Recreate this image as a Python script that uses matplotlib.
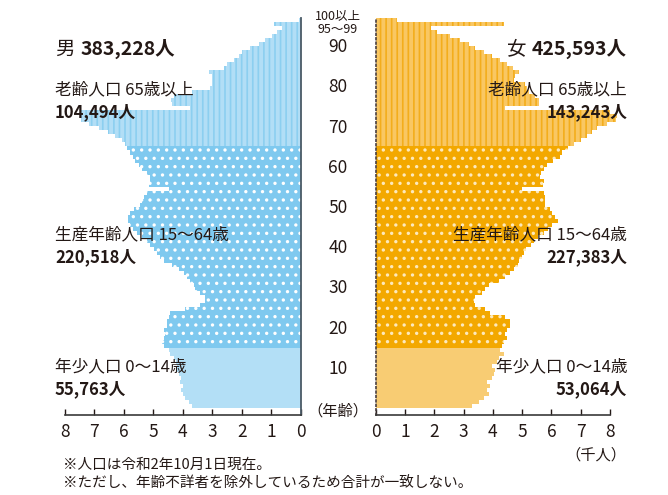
import matplotlib
matplotlib.use("Agg")
import matplotlib.pyplot as plt
import matplotlib.transforms as mtransforms
import numpy as np

plt.rcParams['font.family'] = ['Noto Sans CJK JP', 'DejaVu Sans']
plt.rcParams['hatch.linewidth'] = 1.2

# population in thousands, single ages 0..94, then 95-99 and 100+
male_child = [3.70, 3.78, 3.92, 3.98, 4.05, 4.00, 4.10, 4.05, 4.12, 4.20,
              4.18, 4.22, 4.30, 4.42, 4.48]
male_work = [4.65, 4.70, 4.65, 4.59, 4.65, 4.54, 4.54, 4.48, 4.42, 3.91,
             3.40, 3.23, 3.23, 3.40, 3.57, 3.63, 3.74, 3.85, 3.97, 4.14,
             4.36, 4.65, 4.76, 4.88, 4.99, 5.10, 5.22, 5.39, 5.56, 5.70,
             5.80, 5.85, 5.85, 5.78, 5.65, 5.44, 5.39, 5.33, 5.22, 4.48,
             5.16, 5.10, 5.10, 5.22, 5.39, 5.50, 5.62, 5.70, 5.78, 5.90]
male_old = [5.97, 6.05, 6.30, 6.55, 6.85, 7.20, 7.45, 7.50, 7.45, 3.75,
            4.37, 4.40, 4.30, 3.70, 3.06, 3.00, 3.00, 3.00, 3.12, 2.61,
            2.49, 2.27, 2.10, 1.98, 1.70, 1.42, 1.19, 0.96, 0.79, 0.62,
            0.91, 0.06]

female_child = [3.29, 3.52, 3.69, 3.86, 3.80, 3.91, 3.80, 3.97, 4.03, 4.08,
                3.97, 4.14, 4.20, 4.37, 4.25]
female_work = [4.31, 4.37, 4.48, 4.43, 4.48, 4.60, 4.60, 4.43, 3.91, 3.74,
               3.40, 3.34, 3.40, 3.63, 3.74, 3.86, 4.20, 4.43, 4.60, 4.71,
               4.85, 4.90, 5.00, 5.05, 5.12, 5.30, 5.40, 5.55, 5.75, 5.90,
               6.02, 6.22, 6.13, 6.02, 5.96, 5.79, 5.77, 5.77, 5.75, 4.99,
               5.70, 5.73, 5.60, 5.65, 5.75, 5.85, 6.07, 6.30, 6.36, 6.55]
female_old = [6.78, 7.00, 7.20, 7.40, 7.55, 7.90, 8.22, 8.24, 8.00, 4.43,
              5.56, 5.56, 5.45, 5.22, 5.16, 5.11, 4.71, 4.77, 4.88, 4.70,
              4.48, 4.25, 3.97, 3.69, 3.40, 3.17, 2.89, 2.55, 2.09, 1.88,
              4.37, 0.73]

age_ticks = [10, 20, 30, 40, 50, 60, 70, 80, 90]
x_ticks = [0, 1, 2, 3, 4, 5, 6, 7, 8]

male = male_child + male_work + male_old
female = female_child + female_work + female_old
rows = np.arange(len(male))

ink = '#231815'
# (face colour, hatch colour, hatch) for child / working / elderly
groups = [
    (slice(0, 15), dict(m=('#b3dff6', None, None), f=('#f8cc73', None, None))),
    (slice(15, 65), dict(m=('#7fc9ef', 'white', '..'), f=('#f3a800', '#fde9bd', '..'))),
    (slice(65, len(male)), dict(m=('#b2def6', '#8ccff0', '|||'), f=('#f9c763', '#f3ad1c', '|||'))),
]

fig = plt.figure(figsize=(6.68, 4.95), dpi=100)
ax_l = fig.add_axes([65 / 668, 80 / 495, 235.5 / 668, 397.3 / 495])
ax_r = fig.add_axes([375.7 / 668, 80 / 495, 234.3 / 668, 397.3 / 495])

for sl, st in groups:
    for ax, vals, key in [(ax_l, male, 'm'), (ax_r, female, 'f')]:
        face, hcol, hatch = st[key]
        kw = dict(height=1.0, color=face, linewidth=0, clip_on=False)
        if hatch:
            kw.update(edgecolor=hcol, hatch=hatch)
        ax.barh(rows[sl], vals[sl], **kw)

for ax in (ax_l, ax_r):
    ax.set_ylim(-2.24, 96.5)
    ax.set_yticks([])
    ax.set_xticks(x_ticks)
    ax.tick_params(axis='x', direction='in', length=4, width=1,
                   colors=ink, labelsize=12.5, pad=6)
    ax.spines['top'].set_visible(False)
    ax.spines['bottom'].set_color('#3a3a3a')
    ax.spines['bottom'].set_linewidth(1.2)
ax_l.set_xlim(8, 0)
ax_r.set_xlim(0, 8)
ax_l.spines['left'].set_visible(False)
ax_l.spines['right'].set_color('#4a5a66')
ax_l.spines['right'].set_linewidth(1.3)
ax_r.spines['right'].set_visible(False)
ax_r.spines['left'].set_color('#4a4040')
ax_r.spines['left'].set_linestyle(':')
ax_r.spines['left'].set_linewidth(1.2)

# age labels between the two panels
mid = mtransforms.blended_transform_factory(fig.transFigure, ax_l.transData)
xc = 338 / 668
for a in age_ticks:
    fig.text(xc, a - 0.8, str(a), transform=mid, ha='center', va='center',
             size=12.5, color=ink)
fig.text(xc, 97.0, '100以上', transform=mid, ha='center', va='center', size=9, color=ink)
fig.text(xc, 93.6, '95〜99', transform=mid, ha='center', va='center', size=9, color=ink)
fig.text(xc, 1 - 411 / 495, '（年齢）', ha='center', va='center', size=11, color=ink)
fig.text(596 / 668, 1 - 455 / 495, '（千人）', ha='center', va='center', size=11, color=ink)


def fy(py):
    return 1 - py / 495


xl, xr = 55 / 668, 627 / 668
t = fig.text(xl, fy(49), '男', size=14, va='center', ha='left', color=ink)
ax_l.annotate('383,228人', xy=(1, 0.5), xycoords=t, xytext=(4, 0), textcoords='offset points',
              size=14, weight='bold', color=ink, va='center', ha='left')
t2 = fig.text(xr, fy(49), '425,593人', size=14, weight='bold', va='center', ha='right', color=ink)
ax_r.annotate('女', xy=(0, 0.5), xycoords=t2, xytext=(-4, 0), textcoords='offset points',
              size=14, color=ink, va='center', ha='right')

left_labels = [('老齢人口 65歳以上', '104,494人', 90),
               ('生産年齢人口 15〜64歳', '220,518人', 235),
               ('年少人口 0〜14歳', '55,763人', 367)]
right_labels = [('老齢人口 65歳以上', '143,243人', 90),
                ('生産年齢人口 15〜64歳', '227,383人', 235),
                ('年少人口 0〜14歳', '53,064人', 367)]
for name, num, py in left_labels:
    fig.text(xl, fy(py), name, size=12, va='center', ha='left', color=ink)
    fig.text(xl, fy(py + 22), num, size=12, weight='bold', va='center', ha='left', color=ink)
for name, num, py in right_labels:
    fig.text(xr, fy(py), name, size=12, va='center', ha='right', color=ink)
    fig.text(xr, fy(py + 22), num, size=12, weight='bold', va='center', ha='right', color=ink)

fig.text(63 / 668, fy(465), '※人口は令和2年10月1日現在。', size=10.5, va='center', color=ink)
fig.text(63 / 668, fy(483), '※ただし、年齢不詳者を除外しているため合計が一致しない。',
         size=10.5, va='center', color=ink)

fig.savefig('out.png', dpi=100)
